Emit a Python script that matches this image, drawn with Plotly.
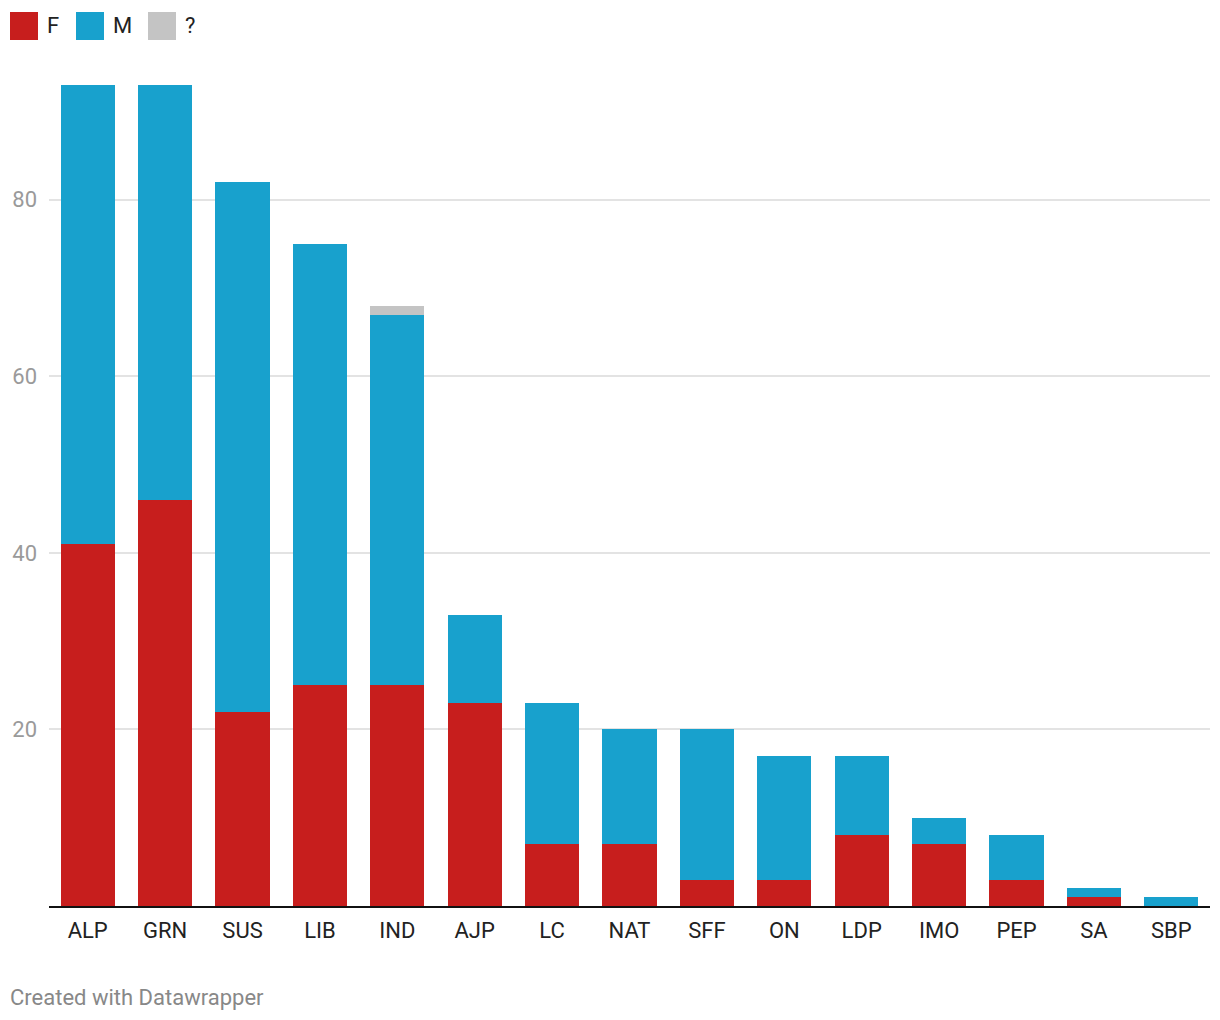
import plotly.graph_objects as go

parties = ["ALP", "GRN", "SUS", "LIB", "IND", "AJP", "LC", "NAT", "SFF", "ON", "LDP", "IMO", "PEP", "SA", "SBP"]
female = [41, 46, 22, 25, 25, 23, 7, 7, 3, 3, 8, 7, 3, 1, 0]
male = [52, 47, 60, 50, 42, 10, 16, 13, 17, 14, 9, 3, 5, 1, 1]
unknown = [0, 0, 0, 0, 1, 0, 0, 0, 0, 0, 0, 0, 0, 0, 0]
series_names = ["F", "M", "?"]
series_colors = ["#c71e1d", "#18a1cd", "#c4c4c4"]
y_ticks = [20, 40, 60, 80]

W, H = 1220, 1020
PL, PR, PT, PB = 49, 1210, 85, 906  # plot area in pixels


def px(x):
    return (x - PL) / (PR - PL)


def py(y):
    return (PB - y) / (PB - PT)


fig = go.Figure()
for name, vals, col in zip(series_names, [female, male, unknown], series_colors):
    fig.add_trace(go.Bar(x=parties, y=vals, name=name, marker=dict(color=col, line=dict(width=0)),
                         showlegend=False, hovertemplate="%{x}: %{y}<extra>" + name + "</extra>"))

# custom legend (large swatches like the original)
legend_x = [10, 76, 148]
for name, col, x0 in zip(series_names, series_colors, legend_x):
    fig.add_shape(type="rect", xref="paper", yref="paper",
                  x0=px(x0), x1=px(x0 + 28), y0=py(40), y1=py(12),
                  fillcolor=col, line=dict(width=0))
    fig.add_annotation(xref="paper", yref="paper", x=px(x0 + 35), y=py(26), text=name,
                       showarrow=False, xanchor="left", yanchor="middle",
                       font=dict(size=22, color="#222222"))

fig.add_annotation(xref="paper", yref="paper", x=px(8), y=py(997),
                   text="Created with Datawrapper", showarrow=False, xanchor="left", yanchor="middle",
                   font=dict(size=22, color="#888888"))

fig.update_layout(
    barmode="stack",
    bargap=0.3,
    width=W, height=H,
    margin=dict(l=PL, r=W - PR, t=PT, b=H - PB),
    plot_bgcolor="white", paper_bgcolor="white",
    font=dict(family="Roboto", size=22, color="#222222"),
    xaxis=dict(showgrid=False, showline=True, linecolor="#111111", linewidth=2,
               ticks="", ticklabelstandoff=4, tickfont=dict(size=22, color="#222222"), fixedrange=True),
    yaxis=dict(range=[0, 93], tickvals=y_ticks, showgrid=True, gridcolor="#e3e3e3", gridwidth=1.5,
               zeroline=False, showline=False, ticks="", ticklabelstandoff=11,
               tickfont=dict(size=22, color="#9a9a9a"), fixedrange=True),
)

fig.write_html("out.html", config={"displayModeBar": False},
               post_script="document.body.style.margin='0';")
